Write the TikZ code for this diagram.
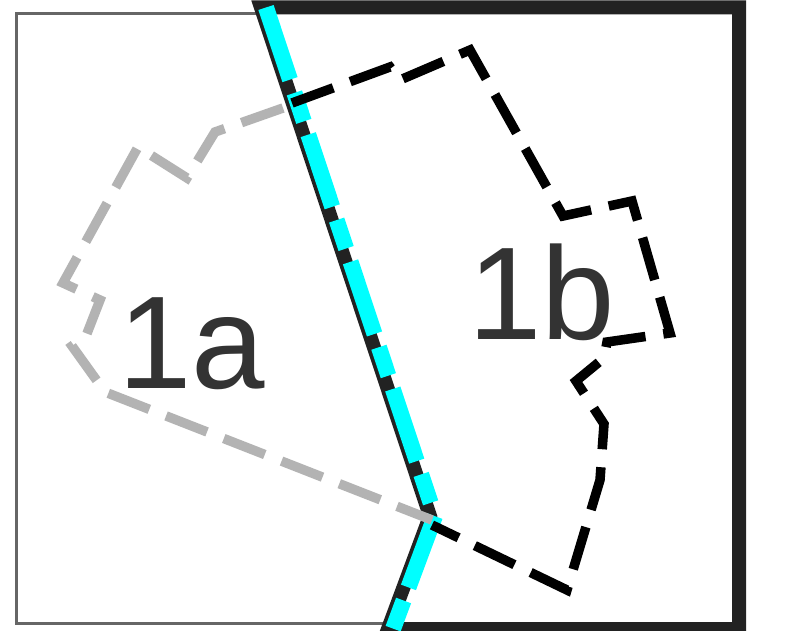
\documentclass[tikz,border=0pt]{standalone}
\usepackage{fontspec}
\setmainfont{Liberation Sans}
\definecolor{framegray}{HTML}{666666}
\definecolor{framedark}{HTML}{222222}
\definecolor{zonegray}{HTML}{B3B3B3}
\definecolor{txt}{HTML}{333333}
\definecolor{cyanline}{HTML}{00FFFF}
\begin{document}
\begin{tikzpicture}[x=1pt,y=-1pt,
  leftframe/.style={draw=framegray,line width=3pt,line join=miter},
  rightframe/.style={draw=framedark,line width=14pt,line join=miter},
  border/.style={draw=cyanline,line width=16pt,line join=miter,dash pattern=on 76pt off 14pt on 30pt off 14pt},
  zoneA/.style={draw=zonegray,line width=9.5pt,line join=miter,dash pattern=on 44pt off 18pt},
  zoneB/.style={draw=black,line width=9.5pt,line join=miter,dash pattern=on 44pt off 18pt},
  lbl/.style={inner sep=0pt,anchor=base west,text=txt,font=\fontsize{132}{132}\selectfont}]
\useasboundingbox (0,0) rectangle (789,631);
\fill[white] (0,0) rectangle (789,631);
% corner coordinates
\coordinate (tl) at (16.5,13.5);
\coordinate (bl) at (16.5,623);
\coordinate (dtop) at (261,7.5);
\coordinate (dmid) at (430,516);
\coordinate (dbot) at (388,629);
\coordinate (tr) at (739,7.5);
\coordinate (br) at (739,629);
% left region frame
\draw[leftframe] (262,13.5) -- (tl) -- (bl) -- (385,623);
% right region frame
\draw[rightframe] (dtop) -- (tr) -- (br) -- (dbot) -- (dmid) -- cycle;
% cyan border
\draw[border] ([xshift=5pt]dtop) -- ([xshift=5pt]dmid) -- ([xshift=5pt]dbot);
% zone 1a
\draw[zoneA] (283,108) -- (215,132) -- (187,178) -- (138,147) -- (63,283) -- (100,300)
  -- (86,336) -- (72,346) -- (105,392) -- (432,520);
% zone 1b
\draw[zoneB] (292,103) -- (390,67) -- (400,80) -- (470,50) -- (563,216) -- (632,201)
  -- (670,333) -- (607,342) -- (604,358) -- (576,381) -- (604,424) -- (600,480)
  -- (567,590) -- (432,525);
\node[lbl] (la) at (118,388) {1a};
\node[lbl] (lb) at (468,339) {1b};
\end{tikzpicture}
\end{document}
